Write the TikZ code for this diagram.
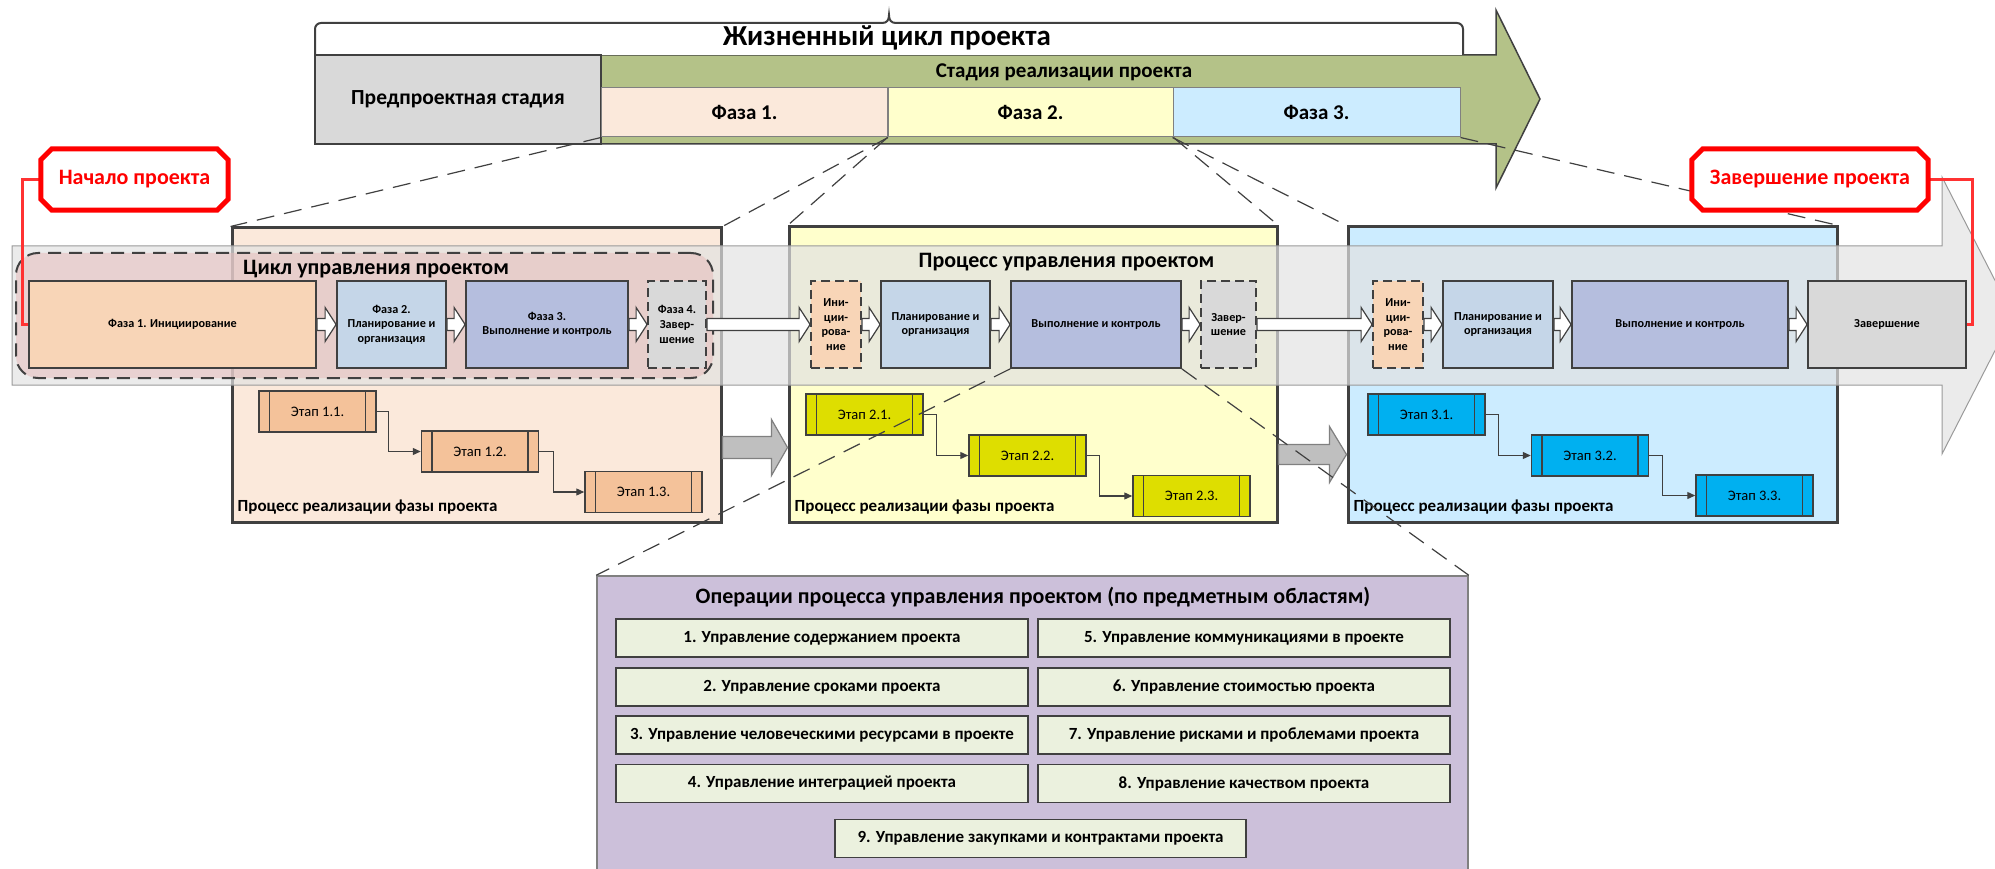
\documentclass[tikz,border=0pt]{standalone}
\usepackage{fontspec}
\setmainfont{Carlito}
\usetikzlibrary{arrows.meta,calc}
\definecolor{dkgray}{RGB}{64,64,64}
\definecolor{midgray}{RGB}{128,128,128}
\definecolor{peachbg}{RGB}{251,233,219}
\definecolor{yellowbg}{RGB}{255,255,204}
\definecolor{bluebg}{RGB}{204,236,255}
\definecolor{greenA}{RGB}{180,194,136}
\definecolor{gray85}{RGB}{217,217,217}
\definecolor{iniC}{RGB}{248,213,183}
\definecolor{planC}{RGB}{197,214,232}
\definecolor{execC}{RGB}{181,190,222}
\definecolor{stageA}{RGB}{244,194,154}
\definecolor{stageB}{RGB}{222,222,0}
\definecolor{stageC}{RGB}{0,176,240}
\definecolor{lavender}{RGB}{204,192,218}
\definecolor{opgreen}{RGB}{235,241,222}
\definecolor{bandgray}{RGB}{226,226,226}
\definecolor{pinkC}{RGB}{230,185,184}
\definecolor{redline}{RGB}{255,50,50}
\definecolor{arrowgray}{RGB}{191,191,191}
\newcommand\blkarrow[6]{\path[#1] let \p1=#2, \p2=#3 in ({\x1},{\y1+#4}) -- ({\x2-#6},{\y1+#4}) -- ({\x2-#6},{\y1+#5}) -- ({\x2},{\y1}) -- ({\x2-#6},{\y1-#5}) -- ({\x2-#6},{\y1-#4}) -- ({\x1},{\y1-#4}) -- cycle;}
\newcommand\fs[1]{\fontsize{#1}{#1}\selectfont}
\tikzset{
  phasebox/.style={draw=midgray, line width=1pt, minimum width=286, minimum height=49, inner sep=0, font=\bfseries\fs{21}},
  bigbox/.style={draw=dkgray, line width=3pt, inner sep=0},
  bigtitle/.style={anchor=base west, inner sep=0, font=\bfseries\fs{17}},
  innerbox/.style={draw=dkgray, line width=1.8pt, minimum height=87, inner sep=1pt, align=center, font=\bfseries\fontsize{12.2}{14.6}\selectfont},
  dashbox/.style={innerbox, dash pattern=on 9pt off 5pt},
  whitearrow/.style={fill=white, draw=dkgray, line width=1.2pt},
  grayarrow/.style={fill=arrowgray, draw=midgray, line width=1.2pt},
  stagebox/.style={draw=dkgray, line width=1.5pt, minimum width=117, minimum height=41, inner sep=0, font=\mdseries\fs{14.5},
    path picture={\draw[dkgray, line width=1.5pt] ([xshift=10.5pt]path picture bounding box.north west) -- ([xshift=10.5pt]path picture bounding box.south west) ([xshift=-10.5pt]path picture bounding box.north east) -- ([xshift=-10.5pt]path picture bounding box.south east);}},
  stconn/.style={draw=dkgray, line width=1.3pt, -{Triangle[length=8pt,width=7pt]}},
  zline/.style={draw=dkgray, line width=1.2pt, dash pattern=on 18pt off 10pt},
  opitem/.style={fill=opgreen, draw=dkgray, line width=1.8pt, minimum width=412, minimum height=38, inner sep=0, font=\bfseries\fs{17}},
  calloutframe/.style={fill=white, draw=red, line width=5pt, line join=miter},
  callouttext/.style={text=red, font=\bfseries\fs{22}},
  redconn/.style={draw=redline, line width=3pt},
}
\begin{document}
\begin{tikzpicture}[x=1pt,y=-1pt,font=\bfseries]
\useasboundingbox (0,0) rectangle (1995,869);
\clip (0,0) rectangle (1995,869);

% ---------- top banner ----------
\filldraw[fill=greenA, draw=dkgray, line width=1.5pt] (601,55) -- (1496,55) -- (1496,10) -- (1540,99) -- (1496,188) -- (1496,144) -- (601,144) -- cycle;
\filldraw[fill=white, draw=dkgray, line width=2pt] (315,55) -- (315,29) arc[start angle=180, end angle=270, radius=6] -- (882,23) .. controls (887,23) and (889,20) .. (889,15) .. controls (889,20) and (891,23) .. (896,23) -- (1457,23) arc[start angle=270, end angle=360, radius=6] -- (1463,55);
\node[anchor=base, inner sep=0, font=\bfseries\fs{29}] (lc) at (887,46) {Жизненный цикл проекта};
\node[draw=dkgray, fill=gray85, line width=1.5pt, minimum width=286, minimum height=89, inner sep=0, font=\bfseries\fs{21.5}] (pre) at (458,99.5) {Предпроектная стадия};
\node[anchor=base, inner sep=0, font=\bfseries\fs{21}] (stg) at (1064,77.5) {Стадия реализации проекта};
\node[phasebox, fill=peachbg] (f1) at (744.5,112.5) {Фаза 1.};
\node[phasebox, fill=yellowbg, minimum width=285] (f2) at (1030.5,112.5) {Фаза 2.};
\node[phasebox, fill=bluebg, minimum width=287] (f3) at (1316.5,112.5) {Фаза 3.};

% ---------- phase boxes ----------
\node[bigbox, fill=peachbg, minimum width=489, minimum height=294] (b1) at (476.5,375) {};
\node[bigbox, fill=yellowbg, minimum width=488, minimum height=295] (b2) at (1033,374.5) {};
\node[bigbox, fill=bluebg, minimum width=489, minimum height=295] (b3) at (1592.5,374.5) {};
\node[bigtitle] (b1t) at ([xshift=7pt,yshift=12pt]b1.south west) {Процесс реализации фазы проекта};
\node[bigtitle] (b2t) at ([xshift=7pt,yshift=12pt]b2.south west) {Процесс реализации фазы проекта};
\node[bigtitle] (b3t) at ([xshift=7pt,yshift=12pt]b3.south west) {Процесс реализации фазы проекта};

\coordinate (ga1) at (0,447.5);
\coordinate (ga2) at (0,454.5);
\blkarrow{grayarrow}{(b1.east |- ga1)}{(b2.west |- ga1)}{11pt}{28pt}{16pt}
\blkarrow{grayarrow}{(b2.east |- ga2)}{(b3.west |- ga2)}{10pt}{28pt}{17pt}

% stages
\node[stagebox, fill=stageA] (s11) at (317.5,411.5) {Этап 1.1.};
\node[stagebox, fill=stageA] (s12) at (480,451.5) {Этап 1.2.};
\node[stagebox, fill=stageA] (s13) at (643.5,492) {Этап 1.3.};
\node[stagebox, fill=stageB] (s21) at (864.5,414.5) {Этап 2.1.};
\node[stagebox, fill=stageB] (s22) at (1027.5,455.5) {Этап 2.2.};
\node[stagebox, fill=stageB] (s23) at (1191.5,496) {Этап 2.3.};
\node[stagebox, fill=stageC] (s31) at (1426.5,414.5) {Этап 3.1.};
\node[stagebox, fill=stageC] (s32) at (1590,455.5) {Этап 3.2.};
\node[stagebox, fill=stageC] (s33) at (1754.5,495.5) {Этап 3.3.};
\draw[stconn] (s11.east) -- ++(12,0) |- (s12.west);
\draw[stconn] (s12.east) -- ++(14,0) |- (s13.west);
\draw[stconn] (s21.east) -- ++(13,0) |- (s22.west);
\draw[stconn] (s22.east) -- ++(13,0) |- (s23.west);
\draw[stconn] (s31.east) -- ++(13,0) |- (s32.west);
\draw[stconn] (s32.east) -- ++(13,0) |- (s33.west);

% ---------- translucent band ----------
\fill[bandgray, fill opacity=0.7] (12,246) -- (1942,246) -- (1942,177) -- (2013,315.5) -- (1942,454) -- (1942,385) -- (12,385) -- cycle;
\draw[midgray!80, line width=1pt] (12,246) -- (1942,246) -- (1942,177) -- (2013,315.5) -- (1942,454) -- (1942,385) -- (12,385) -- cycle;

% management cycle group
\node[draw=dkgray, line width=2pt, dash pattern=on 13pt off 8pt, fill=pinkC, fill opacity=0.5, draw opacity=1, rounded corners=22pt, minimum width=697, minimum height=125] (cyc) at (364.5,315.5) {};
\node[anchor=base, inner sep=0, font=\bfseries\fs{22}] (cyct) at (376,274.5) {Цикл управления проектом};
\node[anchor=base, inner sep=0, font=\bfseries\fs{22}] (prt) at (1066.5,267) {Процесс управления проектом};

% inner nodes
\node[innerbox, fill=iniC, minimum width=287] (p1a) at (172.5,324.5) {Фаза 1. Инициирование};
\node[innerbox, fill=planC, minimum width=109] (p1b) at (391.5,324.5) {Фаза 2.\\Планирование и\\организация};
\node[innerbox, fill=execC, minimum width=162] (p1c) at (547,324.5) {Фаза 3.\\Выполнение и контроль};
\node[dashbox, fill=gray85, minimum width=58] (p1d) at (677,324.5) {Фаза 4.\\Завер-\\шение};
\node[dashbox, fill=iniC, minimum width=50] (p2a) at (836,324.5) {Ини-\\ции-\\рова-\\ние};
\node[innerbox, fill=planC, minimum width=109] (p2b) at (935.5,324.5) {Планирование и\\организация};
\node[innerbox, fill=execC, minimum width=170] (p2c) at (1096,324.5) {Выполнение и контроль};
\node[dashbox, fill=gray85, minimum width=55] (p2d) at (1228.5,324.5) {Завер-\\шение};
\node[dashbox, fill=iniC, minimum width=50] (p3a) at (1398,324.5) {Ини-\\ции-\\рова-\\ние};
\node[innerbox, fill=planC, minimum width=110] (p3b) at (1498,324.5) {Планирование и\\организация};
\node[innerbox, fill=execC, minimum width=216] (p3c) at (1680,324.5) {Выполнение и контроль};
\node[innerbox, fill=gray85, minimum width=158] (p3d) at (1887,324.5) {Завершение};

\blkarrow{whitearrow}{(p1a.east)}{(p1b.west)}{6pt}{17pt}{11pt}
\blkarrow{whitearrow}{(p1b.east)}{(p1c.west)}{6pt}{17pt}{11pt}
\blkarrow{whitearrow}{(p1c.east)}{(p1d.west)}{6pt}{17pt}{11pt}
\blkarrow{whitearrow}{(p1d.east)}{(p2a.west)}{6pt}{17pt}{11pt}
\blkarrow{whitearrow}{(p2a.east)}{(p2b.west)}{6pt}{17pt}{11pt}
\blkarrow{whitearrow}{(p2b.east)}{(p2c.west)}{6pt}{17pt}{11pt}
\blkarrow{whitearrow}{(p2c.east)}{(p2d.west)}{6pt}{17pt}{11pt}
\blkarrow{whitearrow}{(p2d.east)}{(p3a.west)}{6pt}{17pt}{11pt}
\blkarrow{whitearrow}{(p3a.east)}{(p3b.west)}{6pt}{17pt}{11pt}
\blkarrow{whitearrow}{(p3b.east)}{(p3c.west)}{6pt}{17pt}{11pt}
\blkarrow{whitearrow}{(p3c.east)}{(p3d.west)}{6pt}{17pt}{11pt}

% ---------- operations ----------
\node[fill=lavender, draw=midgray, line width=1.5pt, minimum width=871, minimum height=330, inner sep=0] (ops) at (1032.5,741) {};
\node[anchor=base, inner sep=0, font=\bfseries\fs{22}] (opst) at (1033,603.5) {Операции процесса управления проектом (по предметным областям)};
\node[opitem] (o1) at (822,638) {1. Управление содержанием проекта};
\node[opitem] (o2) at (822,687) {2. Управление сроками проекта};
\node[opitem] (o3) at (822,735) {3. Управление человеческими ресурсами в проекте};
\node[opitem] (o4) at (822,783.5) {4. Управление интеграцией проекта};
\node[opitem] (o5) at (1244,638) {5. Управление коммуникациями в проекте};
\node[opitem] (o6) at (1244,687) {6. Управление стоимостью проекта};
\node[opitem] (o7) at (1244,735) {7. Управление рисками и проблемами проекта};
\node[opitem] (o8) at (1244,783.5) {8. Управление качеством проекта};
\node[opitem, minimum width=411] (o9) at (1040.5,838.5) {9. Управление закупками и контрактами проекта};

% ---------- dashed zoom lines ----------
\draw[zline] (f1.south west) -- (b1.north west);
\draw[zline] (f1.south east) -- (b1.north east);
\draw[zline] (f2.south west) -- (b2.north west);
\draw[zline] (f2.south east) -- (b2.north east);
\draw[zline] (f3.south west) -- (b3.north west);
\draw[zline] (f3.south east) -- (b3.north east);
\draw[zline] (p2c.south west) -- (ops.north west);
\draw[zline] (p2c.south east) -- (ops.north east);

% ---------- callouts ----------
\node[minimum width=187, minimum height=61, inner sep=0] (cs) at (134.5,179.5) {};
\node[minimum width=236, minimum height=61, inner sep=0] (ce) at (1810,179.5) {};
\draw[redconn] (cs.west) -- ++(-18,0) |- (p1a.west);
\draw[redconn] (ce.east) -- ++(44,0) |- (p3d.east);
\filldraw[calloutframe] ([xshift=11pt]cs.north west) -- ([xshift=-11pt]cs.north east) -- ([yshift=-11pt]cs.north east) -- ([yshift=11pt]cs.south east) -- ([xshift=-11pt]cs.south east) -- ([xshift=11pt]cs.south west) -- ([yshift=11pt]cs.south west) -- ([yshift=-11pt]cs.north west) -- cycle;
\filldraw[calloutframe] ([xshift=11pt]ce.north west) -- ([xshift=-11pt]ce.north east) -- ([yshift=-11pt]ce.north east) -- ([yshift=11pt]ce.south east) -- ([xshift=-11pt]ce.south east) -- ([xshift=11pt]ce.south west) -- ([yshift=11pt]ce.south west) -- ([yshift=-11pt]ce.north west) -- cycle;
\node[callouttext] (cst) at (cs) {Начало проекта};
\node[callouttext] (cet) at (ce) {Завершение проекта};
\end{tikzpicture}
\end{document}
